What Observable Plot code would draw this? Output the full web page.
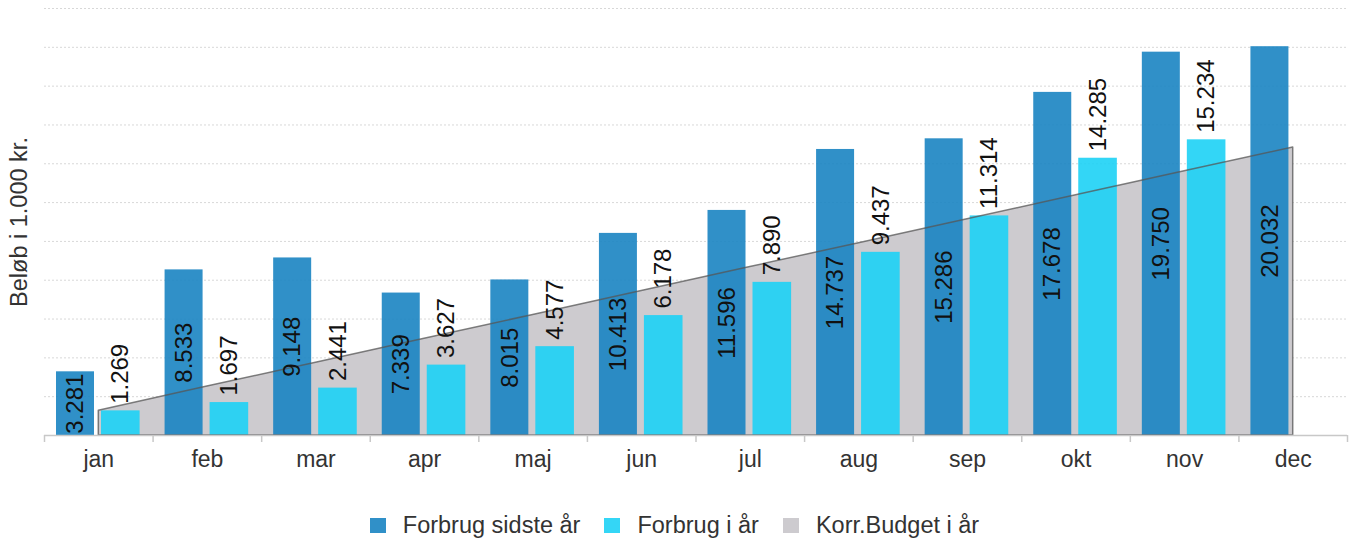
<!DOCTYPE html>
<html>
<head>
<meta charset="utf-8">
<script src="https://cdn.jsdelivr.net/npm/d3@7"></script>
<script src="https://cdn.jsdelivr.net/npm/@observablehq/plot@0.6"></script>
<style>
  html, body { margin: 0; padding: 0; background: #fff; }
  body { width: 1349px; height: 541px; overflow: hidden; font-family: "Liberation Sans", Arial, sans-serif; }
  #chart svg { display: block; }
  .legend { display: flex; justify-content: center; align-items: center; height: 24px; padding-top: 23px; font-size: 23.5px; color: #333; }
  .legend .item { display: flex; align-items: center; margin: 0 12px; }
  .legend .sw { width: 16px; height: 15px; margin-right: 17px; }
</style>
</head>
<body>
<div id="chart"></div>
<div class="legend" id="legend"></div>
<script>
const months = ["jan","feb","mar","apr","maj","jun","jul","aug","sep","okt","nov","dec"];
const lastYear = [3281, 8533, 9148, 7339, 8015, 10413, 11596, 14737, 15286, 17678, 19750, 20032];
const thisYear = [1269, 1697, 2441, 3627, 4577, 6178, 7890, 9437, 11314, 14285, 15234, null];
const budget = [1280, 2520, 3750, 4980, 6210, 7450, 8680, 9910, 11140, 12380, 13610, 14840];
const gridValues = [0, 2000, 4000, 6000, 8000, 10000, 12000, 14000, 16000, 18000, 20000, 22000];
const seriesNames = ["Forbrug sidste år", "Forbrug i år", "Korr.Budget i år"];
const colors = ["#1984c2", "#1dd1f5", "#cdcbcf"];
const legendColors = ["#3090c8", "#34d6f6", "#cdcbcf"];

const data = months.map((m, i) => ({month: m, last: lastYear[i], cur: thisYear[i], budget: budget[i]}));
const curData = data.filter(d => d.cur != null);
const fmt = v => (v / 1000).toFixed(3);

const W = 1349, H = 490, mL = 44, mR = 2;
const bw = (W - mL - mR) / months.length;

const chart = Plot.plot({
  width: W,
  height: H,
  marginLeft: mL,
  marginRight: mR,
  marginTop: 8,
  marginBottom: 55,
  style: {fontFamily: "'Liberation Sans', Arial, sans-serif", background: "#fff"},
  x: {domain: months, padding: 0, round: false, label: null, axis: null},
  y: {domain: [0, 22000], axis: null},
  marks: [
    Plot.ruleY(gridValues, {y: d => d, stroke: "#d8d8d8", strokeDasharray: "2,2"}),
    Plot.areaY(data, {x: "month", y: "budget", fill: colors[2], curve: "linear"}),
    Plot.barY(data, {x: "month", y: "last", fill: colors[0], fillOpacity: 0.9, insetLeft: 12, insetRight: bw - 50}),
    Plot.barY(curData, {x: "month", y: "cur", fill: colors[1], fillOpacity: 0.9, insetLeft: 57, insetRight: bw - 95.6}),
    Plot.areaY(data, {x: "month", y: "budget", fill: "none", stroke: "#555", strokeOpacity: 0.75, strokeWidth: 1.5, curve: "linear"}),
    Plot.ruleY([0], {stroke: "#c8c8c8", strokeWidth: 1.5}),
    Plot.ruleX(months, {x: d => d, dx: -bw / 2, y1: 0, y2: 0, insetBottom: -7, stroke: "#c8c8c8", strokeWidth: 1.5}),
    Plot.ruleX(["dec"], {x: d => d, dx: bw / 2, y1: 0, y2: 0, insetBottom: -7, stroke: "#c8c8c8", strokeWidth: 1.5}),
    Plot.text(data, {x: "month", y: d => d.last / 2, text: d => fmt(d.last), rotate: -90, dx: 31 - bw / 2, fontSize: 24, fill: "#111"}),
    Plot.text(curData, {x: "month", y: "cur", text: d => fmt(d.cur), rotate: -90, textAnchor: "start", dx: 76.3 - bw / 2, dy: -7, fontSize: 24, fill: "#111"}),
    Plot.axisX({tickSize: 0, tickPadding: 15, fontSize: 23, color: "#333", label: null}),
    Plot.text(["Beløb i 1.000 kr."], {frameAnchor: "left", textAnchor: "middle", dx: -25, rotate: -90, text: d => d, fontSize: 23.5, fill: "#333"})
  ]
});
document.getElementById("chart").appendChild(chart);

const legend = document.getElementById("legend");
seriesNames.forEach((name, i) => {
  const item = document.createElement("div");
  item.className = "item";
  const sw = document.createElement("div");
  sw.className = "sw";
  sw.style.background = legendColors[i];
  const label = document.createElement("span");
  label.textContent = name;
  item.appendChild(sw);
  item.appendChild(label);
  legend.appendChild(item);
});
</script>
</body>
</html>
